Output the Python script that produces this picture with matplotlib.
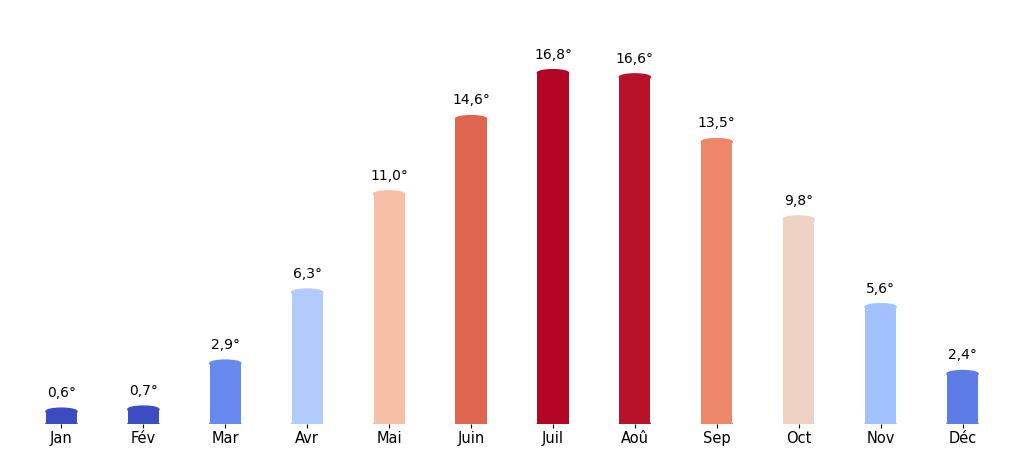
import numpy as np
import matplotlib
matplotlib.use("Agg")
import matplotlib.pyplot as plt
from matplotlib.patches import Ellipse

months = ['Jan', 'Fév', 'Mar', 'Avr', 'Mai', 'Juin', 'Juil', 'Aoû', 'Sep', 'Oct', 'Nov', 'Déc']
temps = [0.6, 0.7, 2.9, 6.3, 11.0, 14.6, 16.8, 16.6, 13.5, 9.8, 5.6, 2.4]

fig = plt.figure(figsize=(10.24, 4.54), dpi=100)
ax = fig.add_axes([0.02, 0.066, 0.96, 0.914])

cmap = plt.get_cmap('coolwarm')
norm = plt.Normalize(min(temps), max(temps))
w = 0.38
cap = 0.32

x = np.arange(len(months))
for xi, v in zip(x, temps):
    c = cmap(norm(v))
    ax.bar(xi, v, width=w, color=c, zorder=2)
    ax.add_patch(Ellipse((xi, v), w, cap, color=c, zorder=3))
    ax.add_patch(Ellipse((xi, 0), w, cap, color=c, zorder=3))
    ax.text(xi, v + 0.55, f"{v:.1f}°".replace('.', ','), ha='center', va='bottom', fontsize=10)

ax.set_xlim(-0.5, 11.5)
ax.set_ylim(0, 19.86)
ax.set_xticks(x)
ax.set_xticklabels(months, fontsize=10.5)
ax.set_yticks([])
ax.tick_params(axis='x', length=3, pad=2)
for s in ax.spines.values():
    s.set_visible(False)

fig.savefig('out.png', dpi=100)
